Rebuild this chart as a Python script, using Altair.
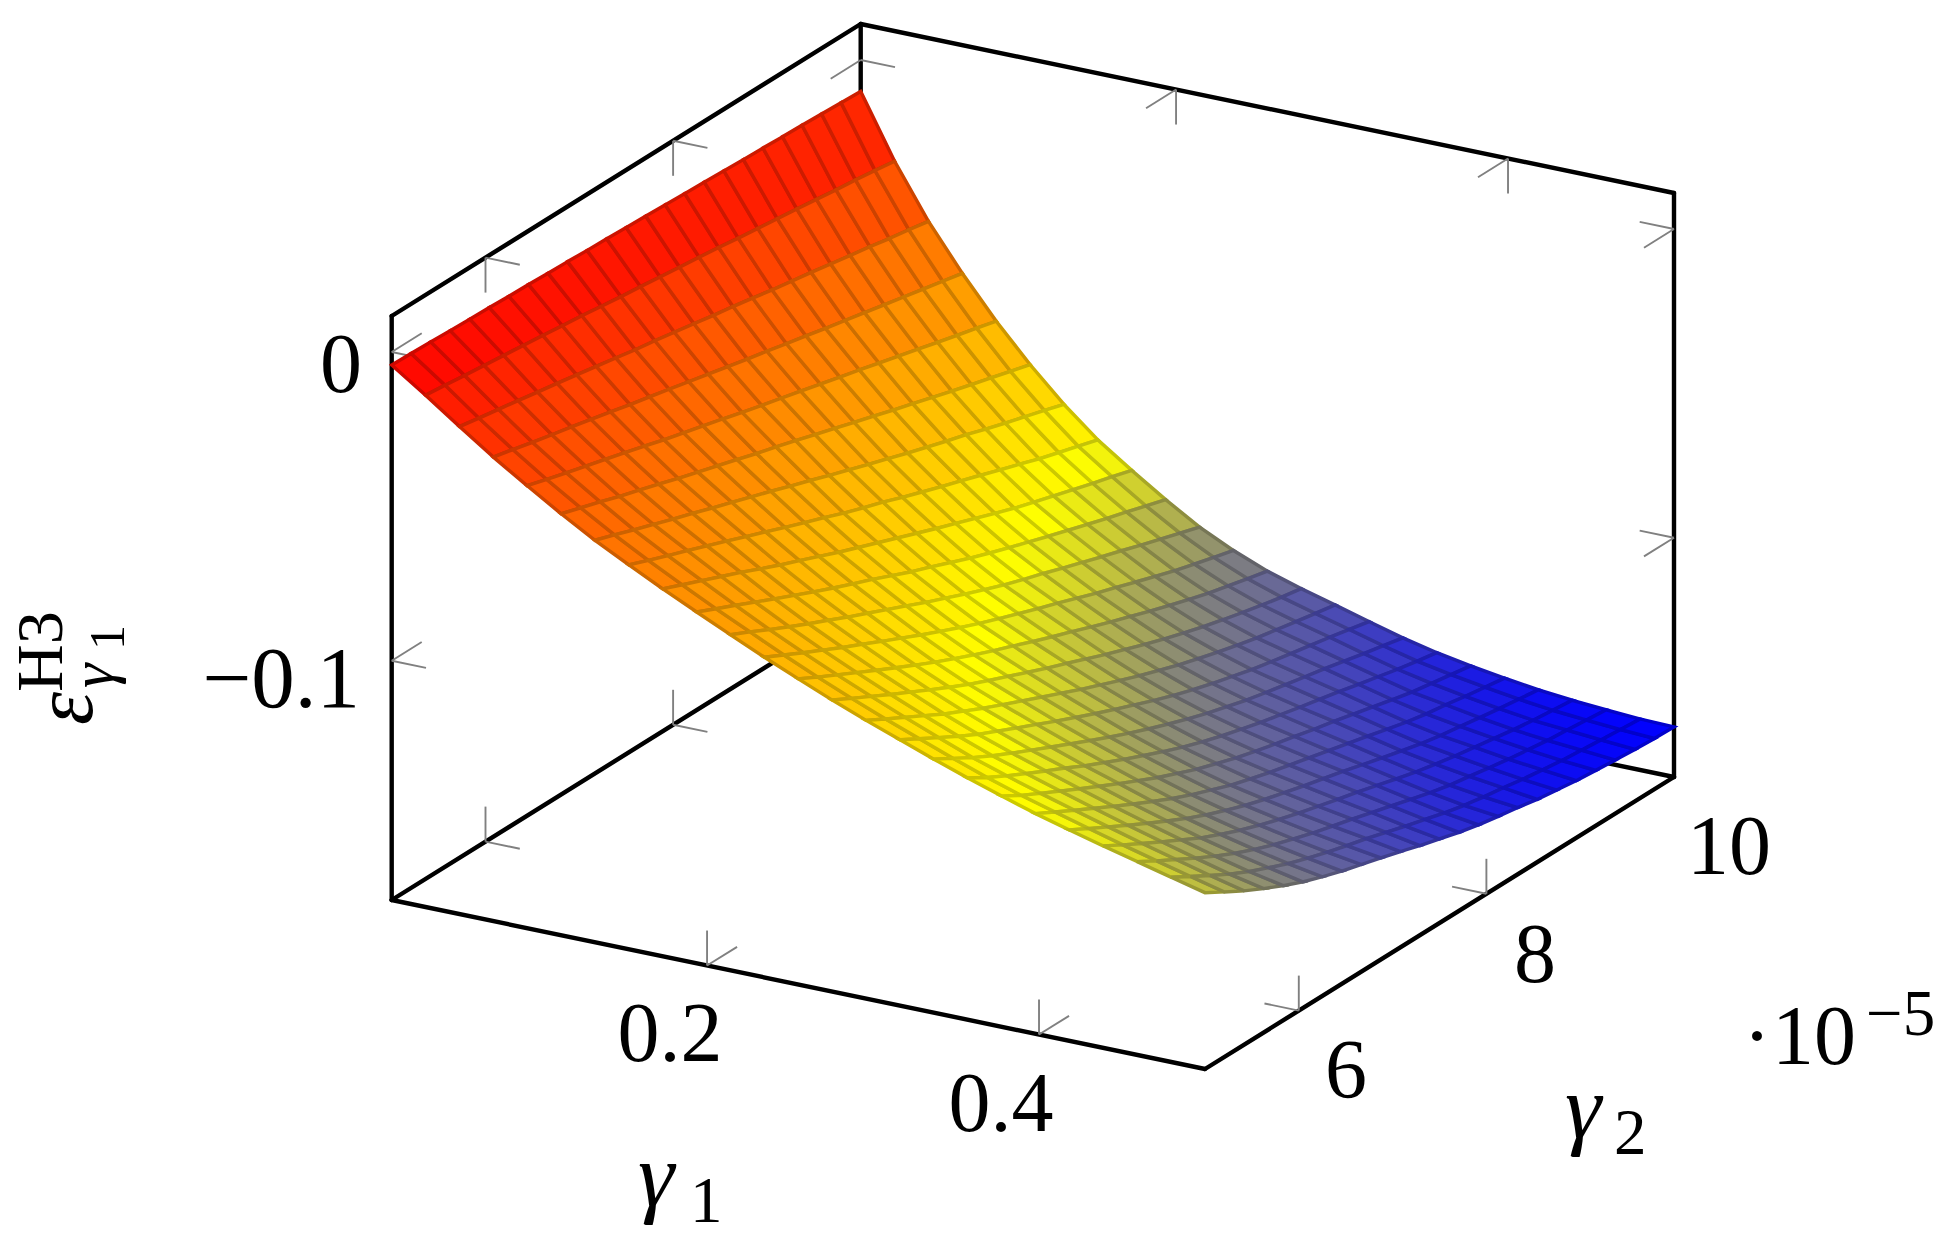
import altair as alt

# sampled surface: eps value in units of 1e-4; rows = gamma1 samples, columns = gamma2 samples
GAMMA1_RANGE = (0.01, 0.5)
GAMMA2_RANGE = (5.0, 10.0)
EPS_E4 = [
[-42,-44,-46,-49,-51,-53,-56,-57,-60,-62,-65,-67,-70,-72,-75,-78,-80,-83,-86,-88,-91,-93,-96,-99,-102],
[-117,-124,-132,-139,-146,-153,-160,-168,-175,-184,-192,-199,-207,-215,-222,-230,-239,-247,-255,-263,-271,-280,-287,-296,-305],
[-196,-208,-219,-230,-242,-253,-265,-277,-289,-302,-312,-324,-336,-348,-359,-371,-384,-395,-406,-418,-430,-441,-454,-465,-477],
[-272,-287,-303,-318,-332,-347,-362,-378,-392,-407,-422,-437,-452,-467,-481,-496,-510,-525,-539,-553,-567,-581,-595,-609,-623],
[-342,-361,-379,-397,-414,-432,-450,-469,-486,-503,-520,-538,-555,-571,-587,-604,-621,-637,-654,-671,-688,-705,-722,-738,-755],
[-410,-430,-450,-472,-491,-511,-532,-551,-570,-589,-609,-627,-646,-666,-685,-705,-724,-744,-763,-782,-801,-819,-837,-855,-873],
[-473,-495,-518,-540,-562,-583,-605,-626,-648,-669,-692,-713,-736,-757,-779,-800,-821,-841,-861,-880,-901,-921,-940,-959,-979],
[-530,-555,-579,-602,-626,-650,-675,-699,-724,-748,-771,-796,-818,-839,-863,-885,-907,-928,-949,-971,-992,-1014,-1033,-1052,-1071],
[-585,-611,-637,-663,-689,-717,-744,-769,-795,-821,-845,-869,-893,-917,-941,-964,-987,-1010,-1033,-1053,-1072,-1091,-1110,-1128,-1147],
[-637,-666,-694,-723,-752,-780,-808,-835,-861,-886,-913,-940,-964,-989,-1014,-1037,-1059,-1080,-1101,-1121,-1141,-1161,-1180,-1200,-1219],
[-688,-718,-750,-780,-810,-838,-867,-894,-922,-949,-977,-1003,-1029,-1054,-1078,-1100,-1120,-1142,-1163,-1184,-1204,-1225,-1245,-1265,-1285],
[-738,-770,-802,-833,-864,-893,-923,-952,-981,-1009,-1036,-1062,-1086,-1109,-1132,-1154,-1177,-1200,-1221,-1243,-1264,-1285,-1303,-1321,-1338],
[-785,-819,-851,-883,-915,-946,-977,-1007,-1035,-1062,-1088,-1112,-1137,-1161,-1184,-1208,-1231,-1253,-1275,-1296,-1316,-1335,-1351,-1367,-1382],
[-831,-865,-898,-931,-963,-995,-1026,-1056,-1083,-1109,-1135,-1161,-1185,-1210,-1235,-1258,-1281,-1303,-1323,-1342,-1359,-1375,-1390,-1404,-1416],
[-874,-909,-943,-977,-1011,-1041,-1071,-1099,-1126,-1153,-1180,-1207,-1232,-1257,-1281,-1303,-1325,-1344,-1362,-1379,-1395,-1408,-1421,-1434,-1446],
[-914,-950,-986,-1021,-1054,-1083,-1112,-1140,-1169,-1196,-1223,-1249,-1274,-1299,-1322,-1343,-1362,-1379,-1396,-1410,-1423,-1436,-1449,-1463,-1477],
[-954,-991,-1028,-1061,-1092,-1122,-1151,-1180,-1209,-1237,-1264,-1289,-1313,-1336,-1357,-1375,-1393,-1408,-1422,-1436,-1449,-1464,-1479,-1493,-1507],
[-992,-1030,-1064,-1096,-1127,-1157,-1189,-1218,-1247,-1274,-1301,-1326,-1348,-1368,-1386,-1403,-1418,-1433,-1447,-1461,-1477,-1492,-1507,-1520,-1532],
[-1028,-1065,-1098,-1130,-1162,-1193,-1224,-1254,-1283,-1309,-1335,-1356,-1377,-1395,-1411,-1426,-1442,-1456,-1472,-1488,-1504,-1519,-1530,-1541,-1552],
[-1062,-1096,-1130,-1163,-1196,-1228,-1259,-1289,-1316,-1340,-1364,-1383,-1401,-1417,-1433,-1449,-1465,-1481,-1498,-1514,-1527,-1537,-1549,-1559,-1569],
[-1092,-1127,-1161,-1195,-1228,-1260,-1291,-1319,-1344,-1367,-1387,-1405,-1422,-1438,-1454,-1472,-1489,-1506,-1522,-1535,-1545,-1556,-1566,-1575,-1584],
[-1121,-1157,-1192,-1226,-1259,-1292,-1320,-1346,-1369,-1390,-1409,-1426,-1443,-1459,-1477,-1495,-1512,-1526,-1539,-1550,-1561,-1572,-1581,-1588,-1595],
[-1149,-1186,-1221,-1256,-1289,-1319,-1346,-1370,-1391,-1411,-1428,-1445,-1463,-1481,-1499,-1517,-1532,-1543,-1555,-1566,-1575,-1584,-1590,-1597,-1603],
[-1177,-1214,-1250,-1285,-1316,-1343,-1369,-1391,-1411,-1429,-1446,-1465,-1484,-1502,-1520,-1535,-1547,-1557,-1569,-1578,-1587,-1593,-1599,-1605,-1610],
[-1204,-1241,-1277,-1309,-1339,-1366,-1389,-1410,-1428,-1446,-1465,-1485,-1503,-1521,-1536,-1548,-1559,-1572,-1581,-1590,-1596,-1602,-1607,-1611,-1613],
]

GAMMA1_TICKS = [0.2, 0.4]
GAMMA2_TICKS = [6, 8]
EPS_TICKS = [0.0, -0.1]
EPS_AXIS = (-0.17752, 0.01166)
COLOR_STOPS = [-0.1613, -0.1075, -0.0042]

W, H = 1936, 1235
MARGIN = 8
FONT = "Liberation Serif"

# view of the box: pixel position of the origin and pixel vector of each unit axis
ORIGIN = (391.7, 900.0)
X_VEC = (813.3, 169.0)
Y_VEC = (469.0, -292.0)
Z_PX = 3087.0


def view(g1, g2, eps):
    u = (g1 - GAMMA1_RANGE[0]) / (GAMMA1_RANGE[1] - GAMMA1_RANGE[0])
    v = (g2 - GAMMA2_RANGE[0]) / (GAMMA2_RANGE[1] - GAMMA2_RANGE[0])
    w = (eps - EPS_AXIS[0]) * Z_PX
    return [ORIGIN[0] + u * X_VEC[0] + v * Y_VEC[0],
            ORIGIN[1] + u * X_VEC[1] + v * Y_VEC[1] - w]


def line(points):
    return {"type": "Feature", "properties": {},
            "geometry": {"type": "LineString", "coordinates": points}}


PROJ = dict(type="identity", scale=1, translate=[-MARGIN, -MARGIN])

n1 = len(EPS_E4)
n2 = len(EPS_E4[0])
g1s = [GAMMA1_RANGE[0] + (GAMMA1_RANGE[1] - GAMMA1_RANGE[0]) * i / (n1 - 1) for i in range(n1)]
g2s = [GAMMA2_RANGE[0] + (GAMMA2_RANGE[1] - GAMMA2_RANGE[0]) * j / (n2 - 1) for j in range(n2)]

cells = []
for i in range(n1 - 1):
    for j in range(n2 - 1):
        corners = [(i, j), (i + 1, j), (i + 1, j + 1), (i, j + 1)]
        vals = [EPS_E4[a][b] * 1e-4 for a, b in corners]
        ring = [view(g1s[a], g2s[b], EPS_E4[a][b] * 1e-4) for a, b in corners]
        ring.append(ring[0])
        cells.append({"type": "Feature", "properties": {"eps": sum(vals) / 4},
                      "geometry": {"type": "Polygon", "coordinates": [ring]}})

surface = alt.Chart(alt.Data(values=cells)).mark_geoshape(strokeWidth=3.4, strokeJoin="miter").encode(
    fill=alt.Fill("properties.eps:Q", legend=None,
                  scale=alt.Scale(domain=COLOR_STOPS, range=["#0000ff", "#ffff00", "#ff0000"],
                                  clamp=True, interpolate="rgb")),
    stroke=alt.Stroke("properties.eps:Q", legend=None,
                      scale=alt.Scale(domain=COLOR_STOPS, range=["#0000cc", "#cccc00", "#cc0000"],
                                      clamp=True, interpolate="rgb")),
).project(**PROJ)

g1a, g1b = GAMMA1_RANGE
g2a, g2b = GAMMA2_RANGE
za, zb = EPS_AXIS
frame_edges = [
    ((g1a, g2a, za), (g1b, g2a, za)), ((g1b, g2a, za), (g1b, g2b, za)),
    ((g1b, g2b, za), (g1a, g2b, za)), ((g1a, g2b, za), (g1a, g2a, za)),
    ((g1a, g2a, za), (g1a, g2a, zb)), ((g1a, g2a, zb), (g1a, g2b, zb)),
    ((g1a, g2b, zb), (g1b, g2b, zb)), ((g1b, g2b, zb), (g1b, g2b, za)),
    ((g1a, g2b, za), (g1a, g2b, zb)),
]
frame_lines = [line([view(*a), view(*b)]) for a, b in frame_edges]
frame = alt.Chart(alt.Data(values=frame_lines)).mark_geoshape(
    filled=False, stroke="#000000", strokeWidth=4.4, strokeCap="round").project(**PROJ)

# tick marks: two short strokes from each tick point along the box directions
DX = 0.0422 * (g1b - g1a)
DY = 0.064 * (g2b - g2a)
DZ = 35.0 / Z_PX
ticks = []


def add_tick(p, d1, d2):
    base = view(*p)
    for d in (d1, d2):
        ticks.append(line([base, view(p[0] + d[0], p[1] + d[1], p[2] + d[2])]))


for t in GAMMA1_TICKS:
    add_tick((t, g2a, za), (0, 0, DZ), (0, DY, 0))
    add_tick((t, g2b, zb), (0, 0, -DZ), (0, -DY, 0))
    add_tick((t, g2b, za), (0, 0, DZ), (0, -DY, 0))
for t in GAMMA2_TICKS:
    add_tick((g1b, t, za), (0, 0, DZ), (-DX, 0, 0))
    add_tick((g1a, t, za), (0, 0, DZ), (DX, 0, 0))
    add_tick((g1a, t, zb), (0, 0, -DZ), (DX, 0, 0))
for t in EPS_TICKS:
    add_tick((g1a, g2a, t), (DX, 0, 0), (0, DY, 0))
    add_tick((g1b, g2b, t), (-DX, 0, 0), (0, -DY, 0))
    add_tick((g1a, g2b, t), (DX, 0, 0), (0, -DY, 0))

tick_marks = alt.Chart(alt.Data(values=ticks)).mark_geoshape(
    filled=False, stroke="#808080", strokeWidth=1.9).project(**PROJ)


def label(text, x, y, size=84, align="center", angle=0, style="normal"):
    return alt.Chart(alt.Data(values=[{"t": text}])).mark_text(
        font=FONT, fontSize=size, align=align, baseline="alphabetic",
        angle=angle, fontStyle=style, color="#000000",
    ).encode(text="t:N", x=alt.value(x - MARGIN), y=alt.value(y - MARGIN))


labels = [
    label("0", 362, 392, align="right"),
    label("\u22120.1", 360, 707, size=87, align="right"),
    label("0.2", 670, 1061),
    label("0.4", 1001, 1131),
    label("6", 1346, 1098),
    label("8", 1535, 982),
    label("10", 1729, 874),
    label("\u00b7", 1757, 1064),
    label("10", 1772, 1064, align="left"),
    label("\u22125", 1866, 1035, size=65, align="left"),
    label("\u03b3", 638, 1206, size=92, align="left", style="italic"),
    label("1", 690, 1222, size=65, align="left"),
    label("\u03b3", 1565, 1138, size=92, align="left", style="italic"),
    label("2", 1614, 1154, size=65, align="left"),
    label("\u03b5", 92, 725, align="left", angle=270, style="italic"),
    label("H3", 62, 692, size=66, align="left", angle=270),
    label("\u03b3", 113, 688, size=62, align="left", angle=270, style="italic"),
    label("1", 124, 650, size=50, align="left", angle=270),
]

chart = alt.layer(frame, tick_marks, surface, *labels).properties(
    width=W, height=H, padding=0, autosize=alt.AutoSizeParams(type="none"),
    background="white",
).configure_view(stroke=None).resolve_scale(fill="independent", stroke="independent")

chart.save("out.html", embed_options={"renderer": "svg", "actions": False})
